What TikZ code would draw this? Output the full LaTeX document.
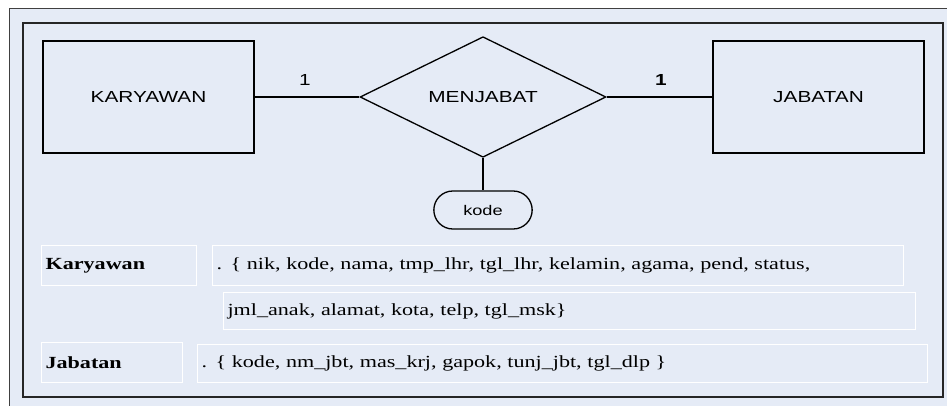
\documentclass[tikz,border=0pt]{standalone}
\usepackage{fontspec}
\newfontfamily\ersans[FakeStretch=1.3]{Liberation Sans}
\newfontfamily\erserif[FakeStretch=1.3]{Liberation Serif}
\usetikzlibrary{shapes.geometric,shapes.misc}

\begin{document}
\begin{tikzpicture}[x=1pt,y=-1pt,
  entity/.style={draw,line width=1.3pt,minimum width=211pt,minimum height=112pt,
    font=\ersans\fontsize{16}{16}\selectfont},
  relation/.style={diamond,draw,line width=1.3pt,inner sep=0pt,minimum width=246pt,
    minimum height=110pt,font=\ersans\fontsize{16}{16}\selectfont},
  attrib/.style={rounded rectangle,draw,line width=1.3pt,minimum width=105pt,
    minimum height=38pt,font=\ersans\fontsize{14}{14}\selectfont},
  card/.style={font=\ersans\fontsize{16}{16}\selectfont},
  attrlbl/.style={draw=white,line width=1.2pt,fill=bgblue,anchor=north west,
    minimum height=40pt,inner xsep=4pt,align=left,
    font=\erserif\bfseries\fontsize{17}{17}\selectfont},
  attrrow/.style={attrlbl,font=\erserif\fontsize{17}{17}\selectfont},
  link/.style={line width=1.5pt}]
\definecolor{bgblue}{RGB}{229,235,246}

\useasboundingbox (0,0) rectangle (947,406);
\clip (0,0) rectangle (947,406);
\fill[white] (0,0) rectangle (947,406);

% frames
\draw[fill=bgblue,draw=black!75,line width=1pt] (9,9) rectangle (960,420);
\draw[draw=black!85,line width=1.5pt] (23,23) rectangle (943,397);

% er diagram
\node[entity] (kar) at (148.5,97) {KARYAWAN};
\node[relation] (menjabat) at (483,97) {MENJABAT};
\node[entity] (jab) at (818.5,97) {JABATAN};
\node[attrib] (kode) at (483,210) {kode};

\draw[link] (kar) -- (menjabat);
\draw[link] (menjabat) -- (jab);
\draw[link] (menjabat.south) -- (kode.north);

\node[card] (c1) at (305,80) {1};
\node[card,font=\ersans\bfseries\fontsize{16}{16}\selectfont] (c2) at (661,80) {1};

% relasi
\node[attrlbl,text width=147pt] (lblkar) at (41,245) {Karyawan};
\node[attrrow,text width=683pt] (rowkar) at (212,245)
  {. \{ nik, kode, nama, tmp\_lhr, tgl\_lhr, kelamin, agama, pend, status,};
\node[attrrow,text width=684pt,minimum height=37pt] (rowkar2) at (223,292)
  {jml\_anak, alamat, kota, telp, tgl\_msk\}};
\node[attrlbl,text width=133pt] (lbljab) at (41,342) {Jabatan};
\node[attrrow,text width=722pt,minimum height=38pt] (rowjab) at (197,344)
  {. \{ kode, nm\_jbt, mas\_krj, gapok, tunj\_jbt, tgl\_dlp \}};
\end{tikzpicture}
\end{document}
